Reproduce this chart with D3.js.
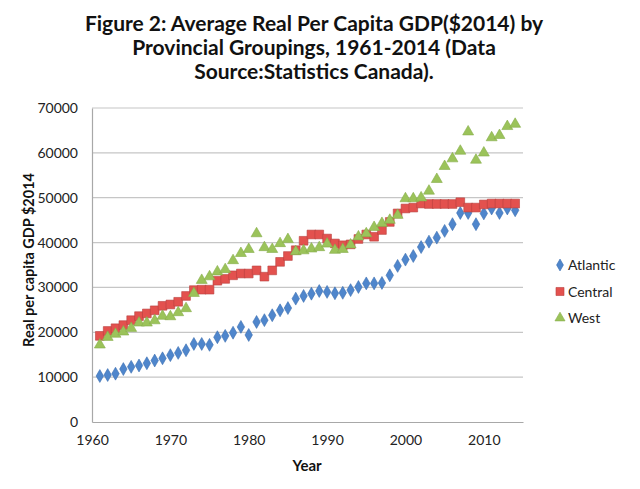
<!DOCTYPE html>
<html><head><meta charset="utf-8">
<script src="https://d3js.org/d3.v7.min.js"></script>
<style>
body{margin:0;background:#fff;}
svg{display:block;}
</style></head>
<body>
<svg id="chart" width="640" height="489"></svg>
<script>
const years = d3.range(1961, 2015);
const atlantic = [10250,10470,10770,11800,12300,12600,13100,13700,14200,14900,15400,16000,17400,17400,17200,18900,19200,19900,21200,19400,22300,22700,23800,24900,25400,27500,28100,28600,29200,29000,28700,28800,29400,30100,30900,30900,31000,32700,34800,36200,37000,39000,40200,41100,42600,44100,46600,46600,44100,46500,47600,46600,47600,47200];
const central = [19200,20300,20900,21600,22700,23600,24200,24900,25900,26200,26800,28100,29400,29500,29500,31500,31900,32700,33100,33100,33800,32400,33800,35700,37000,38300,40400,41800,41800,40900,39800,39400,39600,40800,41800,41300,42800,44600,46500,47600,47800,48700,48600,48600,48600,48600,49000,47800,47800,48500,48700,48700,48700,48700];
const west = [17200,18900,19600,20100,20900,22100,22100,22600,23600,23500,24400,25300,28700,31600,32400,33500,34000,36000,37600,38500,42000,38900,38500,39800,40700,38000,38200,38600,38900,39700,38300,38500,39500,41300,42000,43400,44300,45000,46100,49800,49800,50000,51500,54100,57000,58700,60400,64700,58400,60000,63400,63900,65900,66400];
const seriesNames = ["Atlantic","Central","West"];
const seriesValues = [atlantic, central, west];
const yTicks = [0,10000,20000,30000,40000,50000,60000,70000];
const xTicks = [1960,1970,1980,1990,2000,2010];
const titleLines = ["Figure 2: Average Real Per Capita GDP($2014) by","Provincial Groupings, 1961-2014 (Data","Source:Statistics Canada)."];

const svg = d3.select("#chart");
const FONT = "Lato, 'Open Sans', sans-serif";
const x = d3.scaleLinear().domain([1960, 2015]).range([92, 523]);
const y = d3.scaleLinear().domain([0, 70000]).range([422, 108]);

// title
svg.append("g").selectAll("text").data(titleLines).join("text")
  .attr("x", 314).attr("y", (d,i)=>31 + i*24)
  .attr("text-anchor","middle")
  .style("font-family", FONT).style("font-weight","bold").style("font-size","21px")
  .attr("fill","#111").text(d=>d);

// gridlines
svg.append("g").selectAll("line").data(yTicks.slice(1)).join("line")
  .attr("x1", x(1960)).attr("x2", x(2015))
  .attr("y1", d=>y(d)).attr("y2", d=>y(d))
  .attr("stroke","#c6c6c6").attr("stroke-width",1.2);

// y axis
const yAxis = svg.append("g").attr("transform",`translate(${x(1960)},0)`)
  .call(d3.axisLeft(y).tickValues(yTicks).tickFormat(d3.format("d")).tickSize(0).tickPadding(14));
yAxis.select(".domain").attr("stroke","#a8a8a8").attr("stroke-width",1.2);
yAxis.selectAll("text").style("font-family",FONT).style("font-size","14px").attr("fill","#222");

// x axis
const xAxis = svg.append("g").attr("transform",`translate(0,${y(0)})`)
  .call(d3.axisBottom(x).tickValues(xTicks).tickFormat(d3.format("d")).tickSize(0).tickPadding(13));
xAxis.select(".domain").attr("stroke","#a8a8a8").attr("stroke-width",1.2);
xAxis.selectAll("text").style("font-family",FONT).style("font-size","14px").attr("fill","#222");

// axis titles
svg.append("text").attr("x", 307).attr("y", 471).attr("text-anchor","middle")
  .style("font-family",FONT).style("font-weight","bold").style("font-size","15px").attr("fill","#111").text("Year");
svg.append("text").attr("transform","translate(34,260) rotate(-90)").attr("text-anchor","middle")
  .style("font-family",FONT).style("font-weight","bold").style("font-size","14.5px").attr("fill","#111").text("Real per capita GDP $2014");

// markers
const styles = [
  {sym: d3.symbolDiamond, size: 48, fill:"#4f86cc", stroke:"#3c6fb0"},
  {sym: d3.symbolSquare, size: 76, fill:"#e3514e", stroke:"#b94240"},
  {sym: d3.symbolTriangle, size: 52, fill:"#9bc35a", stroke:"#86ad4a"}
];
seriesValues.forEach((vals, si) => {
  const st = styles[si];
  const g = svg.append("g");
  g.selectAll("path").data(vals).join("path")
    .attr("transform", (d,i)=>`translate(${x(years[i])},${y(d)})`)
    .attr("d", d3.symbol().type(st.sym).size(st.size)())
    .attr("fill", st.fill).attr("stroke", st.stroke).attr("stroke-width",0.6);
});

// legend
const lg = svg.append("g");
seriesNames.forEach((name, i) => {
  const st = styles[i];
  const cy = 265 + i*26.5;
  lg.append("path").attr("transform",`translate(560,${cy})`)
    .attr("d", d3.symbol().type(st.sym).size(st.size*0.85)())
    .attr("fill", st.fill).attr("stroke", st.stroke).attr("stroke-width",0.6);
  lg.append("text").attr("x", 568).attr("y", cy+5)
    .style("font-family",FONT).style("font-size","14px").attr("fill","#222").text(name);
});
</script>
</body></html>
